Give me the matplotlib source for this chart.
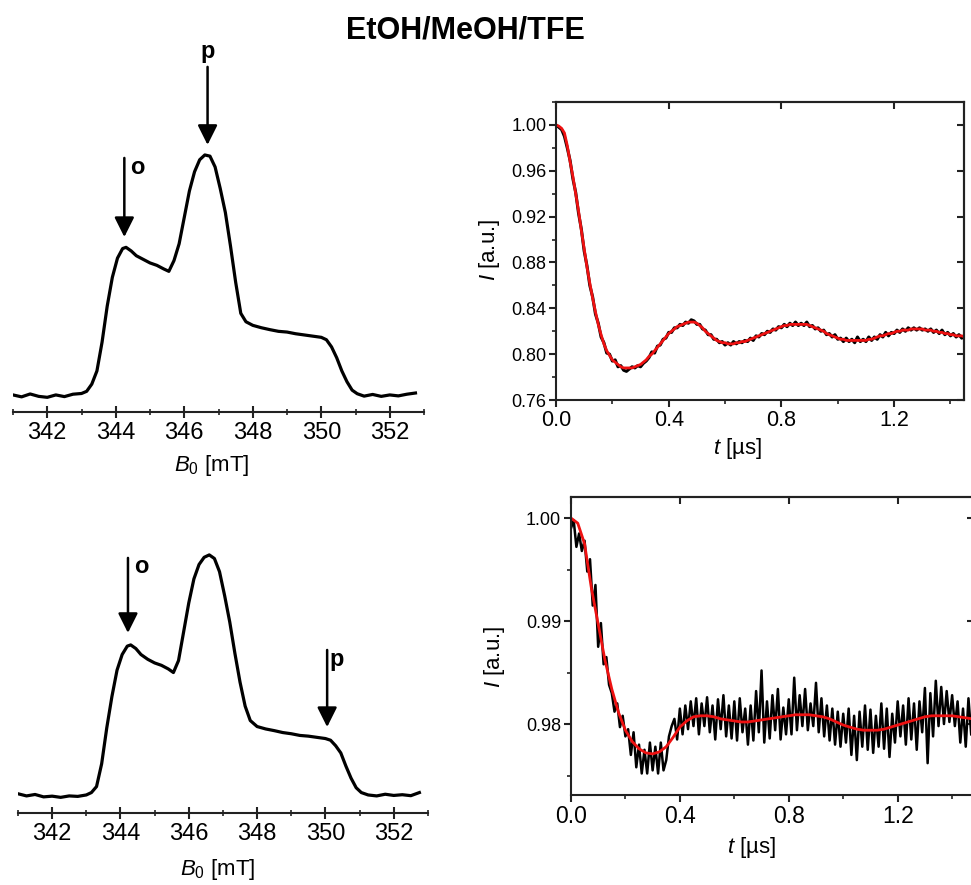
import numpy as np
import matplotlib
matplotlib.use('Agg')
import matplotlib.pyplot as plt
from matplotlib.ticker import MultipleLocator, NullLocator, FormatStrFormatter

plt.rcParams['font.family'] = ['Liberation Sans', 'DejaVu Sans']
plt.rcParams['mathtext.fontset'] = 'custom'
plt.rcParams['mathtext.rm'] = 'Liberation Sans'
plt.rcParams['mathtext.it'] = 'Liberation Sans:italic'

# ---- EPR spectra (field in mT, normalised intensity) ----
field_top = [341.00, 341.25, 341.50, 341.75, 342.00, 342.25, 342.50, 342.75, 343.00, 343.15,
             343.30, 343.45, 343.60, 343.75, 343.90, 344.05, 344.20, 344.30, 344.45, 344.60,
             344.80, 345.00, 345.20, 345.40, 345.55, 345.70, 345.85, 346.00, 346.15, 346.30,
             346.45, 346.60, 346.75, 346.90, 347.05, 347.20, 347.35, 347.50, 347.65, 347.80,
             348.00, 348.25, 348.50, 348.75, 349.00, 349.25, 349.50, 349.75, 350.00, 350.15,
             350.30, 350.45, 350.60, 350.75, 350.90, 351.05, 351.25, 351.50, 351.75, 352.00,
             352.25, 352.50, 352.75]
spec_top = [0.000, -0.008, 0.004, -0.006, -0.010, 0.000, -0.007, 0.003, 0.006, 0.015,
            0.045, 0.100, 0.220, 0.370, 0.490, 0.570, 0.610, 0.615, 0.600, 0.580,
            0.565, 0.550, 0.540, 0.525, 0.515, 0.560, 0.630, 0.740, 0.850, 0.930,
            0.980, 1.000, 0.995, 0.950, 0.860, 0.760, 0.620, 0.470, 0.340, 0.305,
            0.290, 0.280, 0.272, 0.265, 0.262, 0.255, 0.250, 0.245, 0.240, 0.230,
            0.200, 0.155, 0.100, 0.055, 0.020, 0.005, -0.005, 0.002, -0.006, 0.000,
            -0.004, 0.003, 0.008]

field_bot = field_top
spec_bot = [0.005, -0.004, 0.002, -0.008, -0.005, -0.010, -0.004, -0.006, 0.000, 0.010,
            0.035, 0.130, 0.280, 0.410, 0.520, 0.585, 0.620, 0.625, 0.610, 0.585,
            0.565, 0.550, 0.540, 0.525, 0.510, 0.560, 0.680, 0.800, 0.900, 0.960,
            0.990, 1.000, 0.985, 0.930, 0.830, 0.720, 0.590, 0.470, 0.370, 0.310,
            0.285, 0.275, 0.268, 0.260, 0.255, 0.248, 0.245, 0.240, 0.235, 0.228,
            0.205, 0.175, 0.120, 0.070, 0.030, 0.010, 0.000, -0.004, 0.003, -0.002,
            0.001, -0.003, 0.010]

# ---- time traces ----
t_top = np.round(np.arange(146) * 0.01, 2)
trace_top = [1.000, 0.998, 0.996, 0.990, 0.980, 0.969, 0.953, 0.941, 0.923, 0.909,
             0.890, 0.877, 0.860, 0.850, 0.835, 0.827, 0.815, 0.810, 0.801, 0.800,
             0.794, 0.795, 0.789, 0.790, 0.786, 0.785, 0.787, 0.789, 0.788, 0.790,
             0.789, 0.792, 0.794, 0.797, 0.802, 0.801, 0.807, 0.808, 0.813, 0.814,
             0.819, 0.819, 0.823, 0.823, 0.826, 0.825, 0.828, 0.827, 0.830, 0.829,
             0.826, 0.826, 0.822, 0.821, 0.817, 0.817, 0.813, 0.813, 0.810, 0.811,
             0.808, 0.810, 0.808, 0.811, 0.809, 0.811, 0.810, 0.812, 0.811, 0.814,
             0.812, 0.816, 0.815, 0.818, 0.817, 0.820, 0.819, 0.822, 0.821, 0.824,
             0.823, 0.826, 0.824, 0.827, 0.825, 0.828, 0.825, 0.827, 0.825, 0.828,
             0.824, 0.825, 0.822, 0.823, 0.820, 0.821, 0.817, 0.818, 0.815, 0.817,
             0.813, 0.814, 0.811, 0.814, 0.811, 0.813, 0.810, 0.815, 0.811, 0.813,
             0.811, 0.815, 0.812, 0.815, 0.813, 0.817, 0.815, 0.819, 0.816, 0.819,
             0.818, 0.821, 0.819, 0.822, 0.820, 0.823, 0.821, 0.823, 0.821, 0.823,
             0.821, 0.822, 0.820, 0.822, 0.819, 0.821, 0.818, 0.821, 0.817, 0.819,
             0.816, 0.818, 0.815, 0.817, 0.814, 0.816]
fit_top = [1.000, 0.999, 0.997, 0.993, 0.982, 0.968, 0.955, 0.940, 0.925, 0.908,
           0.892, 0.876, 0.862, 0.849, 0.837, 0.826, 0.817, 0.809, 0.803, 0.799,
           0.795, 0.793, 0.791, 0.789, 0.788, 0.788, 0.788, 0.788, 0.789, 0.790,
           0.791, 0.793, 0.795, 0.798, 0.800, 0.803, 0.806, 0.809, 0.812, 0.815,
           0.818, 0.820, 0.822, 0.824, 0.825, 0.826, 0.827, 0.828, 0.828, 0.828,
           0.827, 0.825, 0.823, 0.820, 0.818, 0.816, 0.814, 0.812, 0.811, 0.810,
           0.810, 0.809, 0.809, 0.809, 0.810, 0.810, 0.811, 0.811, 0.812, 0.813,
           0.814, 0.815, 0.816, 0.817, 0.818, 0.819, 0.820, 0.821, 0.822, 0.823,
           0.824, 0.825, 0.825, 0.826, 0.826, 0.826, 0.826, 0.826, 0.826, 0.826,
           0.825, 0.824, 0.823, 0.822, 0.821, 0.820, 0.818, 0.817, 0.816, 0.815,
           0.814, 0.813, 0.813, 0.812, 0.812, 0.812, 0.812, 0.812, 0.812, 0.812,
           0.812, 0.813, 0.813, 0.814, 0.815, 0.816, 0.816, 0.817, 0.818, 0.818,
           0.819, 0.820, 0.820, 0.821, 0.821, 0.821, 0.822, 0.822, 0.822, 0.822,
           0.822, 0.821, 0.821, 0.821, 0.820, 0.820, 0.819, 0.819, 0.818, 0.818,
           0.817, 0.817, 0.816, 0.816, 0.816, 0.815]

t_bot = np.round(np.arange(148) * 0.01, 2)
trace_bot = [0.9990, 0.9998, 0.9972, 0.9985, 0.9968, 0.9978, 0.9948, 0.9960, 0.9915, 0.9935,
             0.9875, 0.9898, 0.9858, 0.9865, 0.9838, 0.9830, 0.9812, 0.9820, 0.9797, 0.9808,
             0.9788, 0.9795, 0.9770, 0.9792, 0.9758, 0.9780, 0.9752, 0.9775, 0.9752, 0.9782,
             0.9755, 0.9778, 0.9752, 0.9782, 0.9755, 0.9765, 0.9788, 0.9798, 0.9805, 0.9785,
             0.9815, 0.9790, 0.9818, 0.9795, 0.9822, 0.9798, 0.9825, 0.9790, 0.9820, 0.9798,
             0.9826, 0.9792, 0.9818, 0.9785, 0.9824, 0.9795, 0.9828, 0.9788, 0.9818, 0.9786,
             0.9822, 0.9784, 0.9825, 0.9792, 0.9815, 0.9780, 0.9818, 0.9784, 0.9832, 0.9792,
             0.9852, 0.9782, 0.9822, 0.9786, 0.9828, 0.9794, 0.9834, 0.9785, 0.9816, 0.9790,
             0.9824, 0.9790, 0.9845, 0.9794, 0.9828, 0.9798, 0.9834, 0.9794, 0.9820, 0.9798,
             0.9840, 0.9792, 0.9825, 0.9788, 0.9818, 0.9784, 0.9815, 0.9780, 0.9812, 0.9778,
             0.9810, 0.9782, 0.9815, 0.9770, 0.9808, 0.9765, 0.9812, 0.9778, 0.9818, 0.9775,
             0.9814, 0.9772, 0.9808, 0.9778, 0.9820, 0.9776, 0.9815, 0.9768, 0.9810, 0.9782,
             0.9822, 0.9788, 0.9818, 0.9780, 0.9825, 0.9785, 0.9820, 0.9775, 0.9822, 0.9792,
             0.9835, 0.9762, 0.9830, 0.9788, 0.9842, 0.9798, 0.9836, 0.9800, 0.9832, 0.9802,
             0.9828, 0.9798, 0.9822, 0.9782, 0.9815, 0.9778, 0.9825, 0.9790]
t_fit_bot = np.round(np.arange(60) * 0.025, 3)
fit_bot = [1.0000, 0.9995, 0.9975, 0.9932, 0.9897, 0.9862, 0.9834, 0.9811, 0.9794, 0.9783,
           0.9776, 0.9772, 0.9771, 0.9773, 0.9778, 0.9787, 0.9797, 0.9803, 0.9807, 0.9808,
           0.9808, 0.9807, 0.9805, 0.9804, 0.9803, 0.9802, 0.9802, 0.9803, 0.9804, 0.9805,
           0.9806, 0.9807, 0.9808, 0.9809, 0.9809, 0.9809, 0.9808, 0.9807, 0.9805, 0.9802,
           0.9799, 0.9797, 0.9795, 0.9794, 0.9794, 0.9794, 0.9795, 0.9797, 0.9799, 0.9801,
           0.9803, 0.9805, 0.9807, 0.9808, 0.9808, 0.9808, 0.9808, 0.9807, 0.9806, 0.9805]

field_ticks = [342, 344, 346, 348, 350, 352]
time_ticks = [0.0, 0.4, 0.8, 1.2]

AX_COL = '#222222'

fig = plt.figure(figsize=(9.71, 8.85), dpi=100)


def arrow(ax, x, y_tail, y_tip):
    ax.annotate('', xy=(x, y_tip), xytext=(x, y_tail),
                arrowprops=dict(arrowstyle='-|>,head_length=0.6,head_width=0.3',
                                lw=1.8, color='black', shrinkA=0, shrinkB=0,
                                mutation_scale=20))


def spectrum_axes(rect, ylim, field, spec, xlab_pos):
    ax = fig.add_axes(rect)
    ax.plot(field, spec, color='black', lw=2.3)
    ax.set_xlim(341, 353)
    ax.set_ylim(*ylim)
    for s in ['left', 'right', 'top']:
        ax.spines[s].set_visible(False)
    ax.spines['bottom'].set_linewidth(1.5)
    ax.spines['bottom'].set_color(AX_COL)
    ax.set_yticks([])
    ax.set_xticks(field_ticks)
    ax.xaxis.set_minor_locator(MultipleLocator(1))
    ax.tick_params(axis='x', which='major', direction='inout', length=8, width=1.5,
                   labelsize=17, pad=3, color=AX_COL)
    ax.tick_params(axis='x', which='minor', direction='inout', length=5, width=1.2,
                   color=AX_COL)
    ax.set_xlabel(r'$B_\mathrm{0}$ [mT]', fontsize=16, va='center')
    ax.xaxis.set_label_coords(*xlab_pos)
    ax.patch.set_alpha(0)
    return ax


def trace_axes(rect, xlim, ylim, yticks, yminor, ylab_pos, xlab_pos, xsize):
    ax = fig.add_axes(rect)
    ax.set_xlim(*xlim)
    ax.set_ylim(*ylim)
    ax.set_xticks(time_ticks)
    ax.xaxis.set_minor_locator(MultipleLocator(0.2))
    ax.set_yticks(yticks)
    ax.set_yticks(yminor, minor=True)
    ax.xaxis.set_major_formatter(FormatStrFormatter('%.1f'))
    ax.yaxis.set_major_formatter(FormatStrFormatter('%.2f'))
    ax.tick_params(which='major', direction='out', length=5, width=1.5, color=AX_COL)
    ax.tick_params(which='minor', direction='out', length=3, width=1.2, color=AX_COL)
    ax.tick_params(axis='x', labelsize=xsize, pad=2)
    ax.tick_params(axis='y', labelsize=13, pad=2)
    for s in ax.spines.values():
        s.set_linewidth(1.5)
        s.set_color(AX_COL)
    secx = ax.secondary_xaxis('top')
    secx.set_xticks(time_ticks)
    secx.xaxis.set_minor_locator(NullLocator())
    secx.tick_params(direction='in', length=5, width=1.5, labeltop=False, color=AX_COL)
    secx.spines['top'].set_linewidth(1.5)
    secx.spines['top'].set_color(AX_COL)
    secy = ax.secondary_yaxis('right')
    secy.set_yticks(yticks)
    secy.yaxis.set_minor_locator(NullLocator())
    secy.tick_params(direction='in', length=5, width=1.5, labelright=False, color=AX_COL)
    secy.spines['right'].set_linewidth(1.5)
    secy.spines['right'].set_color(AX_COL)
    ax.set_xlabel(r'$t$ [µs]', fontsize=16, va='center')
    ax.xaxis.set_label_coords(*xlab_pos)
    ax.set_ylabel(r'$I$ [a.u.]', fontsize=16, va='center')
    ax.yaxis.set_label_coords(*ylab_pos)
    return ax


# top-left spectrum
ax1 = spectrum_axes([0.0134, 0.5345, 0.4233, 0.4203], (-0.071, 1.479),
                    field_top, spec_top, (0.484, -0.145))
arrow(ax1, 346.68, 1.367, 1.042)
ax1.text(346.68, 1.43, 'p', fontsize=17, fontweight='bold', ha='center', va='center')
arrow(ax1, 344.25, 0.9875, 0.658)
ax1.text(344.63, 0.946, 'o', fontsize=17, fontweight='bold', ha='center', va='center')

# bottom-left spectrum
ax3 = spectrum_axes([0.0185, 0.0814, 0.4222, 0.3537], (-0.075, 1.229),
                    field_bot, spec_bot, (0.488, -0.182))
arrow(ax3, 344.22, 0.9875, 0.675)
ax3.text(344.6, 0.95, 'o', fontsize=17, fontweight='bold', ha='center', va='center')
arrow(ax3, 350.05, 0.604, 0.283)
ax3.text(350.32, 0.5625, 'p', fontsize=17, fontweight='bold', ha='center', va='center')

# top-right trace
ax2 = trace_axes([0.5726, 0.548, 0.4202, 0.3367], (0, 1.448), (0.76, 1.019),
                 [0.76, 0.80, 0.84, 0.88, 0.92, 0.96, 1.00],
                 [0.78, 0.82, 0.86, 0.90, 0.94, 0.98, 1.02],
                 (-0.162, 0.503), (0.446, -0.164), 15.5)
ax2.plot(t_top, trace_top, color='black', lw=2.2)
ax2.plot(t_top, fit_top, color='#ee1111', lw=2.0)

# bottom-right trace
ax4 = trace_axes([0.588, 0.1017, 0.415, 0.3367], (0, 1.48), (0.97311, 1.00204),
                 [0.98, 0.99, 1.00], [0.975, 0.985, 0.995],
                 (-0.189, 0.463), (0.449, -0.175), 16.5)
ax4.plot(t_bot, trace_bot, color='black', lw=1.8)
ax4.plot(t_fit_bot, fit_bot, color='#ee1111', lw=2.0)

fig.text(0.479, 0.966, 'EtOH/MeOH/TFE', fontsize=22, fontweight='bold',
         ha='center', va='center')

fig.savefig('out.png', dpi=100)
